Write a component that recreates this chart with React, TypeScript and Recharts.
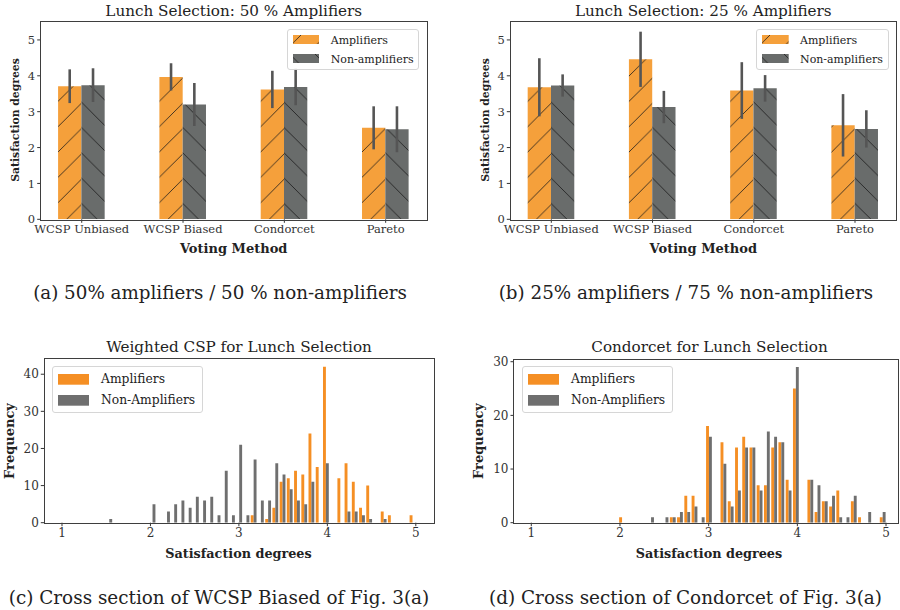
import React from "react";
import { BarChart, Bar, XAxis, YAxis, ErrorBar } from "recharts";

// --- top row: mean satisfaction per voting method ---
const methods = ["WCSP Unbiased", "WCSP Biased", "Condorcet", "Pareto"];
const methodPos = [0, 1, 2, 3];

const amp50 = [3.71, 3.97, 3.62, 2.55];
const amp50Err = [0.47, 0.38, 0.52, 0.6];
const non50 = [3.74, 3.2, 3.69, 2.51];
const non50Err = [0.47, 0.6, 0.51, 0.64];

const amp25 = [3.68, 4.46, 3.59, 2.62];
const amp25Err = [0.81, 0.77, 0.79, 0.87];
const non25 = [3.73, 3.13, 3.65, 2.52];
const non25Err = [0.31, 0.45, 0.37, 0.52];

// --- bottom row: histograms, 49 bins between 1 and 5 ---
const binCenters = [
  1.041, 1.122, 1.204, 1.286, 1.367, 1.449, 1.531, 1.612, 1.694, 1.776,
  1.857, 1.939, 2.02, 2.102, 2.184, 2.265, 2.347, 2.429, 2.51, 2.592,
  2.673, 2.755, 2.837, 2.918, 3.0, 3.082, 3.163, 3.245, 3.327, 3.408,
  3.49, 3.571, 3.653, 3.735, 3.816, 3.898, 3.98, 4.061, 4.143, 4.224,
  4.306, 4.388, 4.469, 4.551, 4.633, 4.714, 4.796, 4.878, 4.959,
];

const wcspAmp = [
  0, 0, 0, 0, 0, 0, 0, 0, 0, 0,
  0, 0, 0, 0, 0, 0, 0, 0, 0, 0,
  0, 0, 0, 0, 0, 0, 2, 0, 1, 4,
  11, 12, 14, 13, 24, 15, 42, 0, 12, 16,
  11, 4, 10, 0, 3, 2, 0, 0, 2,
];
const wcspNon = [
  0, 0, 0, 0, 0, 0, 1, 0, 0, 0,
  0, 0, 5, 0, 3, 5, 6, 4, 7, 6,
  7, 2, 14, 2, 21, 2, 17, 6, 6, 16,
  13, 9, 6, 5, 11, 0, 16, 0, 0, 3,
  3, 2, 1, 0, 1, 0, 0, 0, 0,
];

const condAmp = [
  0, 0, 0, 0, 0, 0, 0, 0, 0, 0,
  0, 0, 1, 0, 0, 0, 0, 0, 0, 1,
  1, 5, 5, 0, 18, 0, 15, 4, 14, 16,
  14, 7, 7, 14, 15, 8, 25, 0, 8, 2,
  4, 3, 6, 0, 4, 1, 0, 0, 1,
];
const condNon = [
  0, 0, 0, 0, 0, 0, 0, 0, 0, 0,
  0, 0, 0, 0, 0, 0, 1, 0, 1, 1,
  2, 2, 3, 1, 16, 0, 11, 3, 6, 14,
  14, 6, 17, 16, 15, 6, 29, 0, 8, 7,
  4, 5, 1, 1, 5, 0, 2, 0, 2,
];

const FONT = '"DejaVu Serif", serif';
const ORANGE = "#f5a03b";
const GREY = "#696c6b";
const H_ORANGE = "#f58f24";
const H_GREY = "#6f6f6f";
const P = 25.33; // hatch period

const mod = (a: number, m: number) => ((a % m) + m) % m;

function Hatch({ id, color, dir, ox }: { id: string; color: string; dir: string; ox: number }) {
  const d =
    dir === "/"
      ? `M0,${P} L${P},0 M-2,2 L2,-2 M${P - 2},${P + 2} L${P + 2},${P - 2}`
      : `M0,0 L${P},${P} M-2,${P - 2} L2,${P + 2} M${P - 2},-2 L${P + 2},2`;
  return (
    <pattern id={id} patternUnits="userSpaceOnUse" width={P} height={P} x={ox} y={0}>
      <rect width={P} height={P} fill={color} />
      <path d={d} stroke="#1a1a1a" strokeWidth={0.8} />
    </pattern>
  );
}

function Txt({ x, y, size, bold, rotate, children }: any) {
  return (
    <div
      style={{
        position: "absolute",
        left: x,
        top: y,
        transform: `translate(-50%, -50%)${rotate ? " rotate(-90deg)" : ""}`,
        fontFamily: FONT,
        fontSize: size,
        fontWeight: bold ? "bold" : "normal",
        color: "#222",
        whiteSpace: "nowrap",
      }}
    >
      {children}
    </div>
  );
}

function Frame({ x, y, w, h }: any) {
  return (
    <div
      style={{
        position: "absolute",
        left: x - 0.6,
        top: y - 0.6,
        width: w,
        height: h,
        border: "1.2px solid #3e3e3e",
        pointerEvents: "none",
      }}
    />
  );
}

function LegendBox({ x, y, w, h, items, sw, sh, sy, tx, size, gap }: any) {
  return (
    <div
      style={{
        position: "absolute",
        left: x,
        top: y,
        width: w,
        height: h,
        border: "1px solid #d6d6d6",
        borderRadius: 3,
        background: "rgba(255,255,255,0.85)",
        boxSizing: "border-box",
      }}
    >
      {items.map((it: any, i: number) => (
        <React.Fragment key={it.label}>
          <svg
            width={sw}
            height={sh}
            style={{ position: "absolute", left: 5, top: sy + i * gap }}
          >
            <rect width={sw} height={sh} fill={it.fill} />
          </svg>
          <div
            style={{
              position: "absolute",
              left: tx,
              top: sy + i * gap + sh / 2,
              transform: "translateY(-50%)",
              fontFamily: FONT,
              fontSize: size,
              color: "#222",
              whiteSpace: "nowrap",
            }}
          >
            {it.label}
          </div>
        </React.Fragment>
      ))}
    </div>
  );
}

const tickStyle = { fontFamily: FONT, fontSize: 11.5, fill: "#333" };

function MethodChart({ left, yAxisW, rightM, amp, ampErr, non, nonErr, pid }: any) {
  const data = methodPos.map((x, i) => ({
    x,
    amp: amp[i],
    ampErr: ampErr[i],
    non: non[i],
    nonErr: nonErr[i],
  }));
  return (
    <div style={{ position: "absolute", left, top: 0 }}>
      <BarChart
        width={450}
        height={260}
        data={data}
        margin={{ top: 22, right: rightM, bottom: 20.7, left: 0 }}
        barGap={0}
      >
        <XAxis
          dataKey="x"
          type="number"
          domain={[-0.405, 3.405]}
          ticks={methodPos}
          interval={0}
          allowDataOverflow
          tickFormatter={(v: number) => methods[v]}
          axisLine={false}
          tickSize={3.5}
          tickLine={{ stroke: "#333" }}
          tick={tickStyle}
          height={20}
        />
        <YAxis
          domain={[0, 5.5]}
          ticks={[0, 1, 2, 3, 4, 5]}
          allowDataOverflow
          axisLine={false}
          tickSize={3.5}
          tickLine={{ stroke: "#333" }}
          tick={tickStyle}
          width={yAxisW}
        />
        <Bar dataKey="amp" fill={`url(#${pid}-o)`} barSize={23.3} isAnimationActive={false}>
          <ErrorBar dataKey="ampErr" width={0} stroke="#555" strokeWidth={2.6} />
        </Bar>
        <Bar dataKey="non" fill={`url(#${pid}-g)`} barSize={23.3} isAnimationActive={false}>
          <ErrorBar dataKey="nonErr" width={0} stroke="#555" strokeWidth={2.6} />
        </Bar>
      </BarChart>
    </div>
  );
}

const histTickStyle = { fontFamily: FONT, fontSize: 12, fill: "#333" };

function HistChart({ left, yAxisW, rightM, top, domainX, maxY, yTicks, amp, non }: any) {
  const data = binCenters.map((c, i) => ({ c, amp: amp[i], non: non[i] }));
  return (
    <div style={{ position: "absolute", left, top: 340 }}>
      <BarChart
        width={450}
        height={210}
        data={data}
        margin={{ top, right: rightM, bottom: 7.3, left: 0 }}
        barGap={0}
      >
        <XAxis
          dataKey="c"
          type="number"
          domain={domainX}
          ticks={[1, 2, 3, 4, 5]}
          interval={0}
          allowDataOverflow
          axisLine={false}
          tickSize={3.5}
          tickLine={{ stroke: "#333" }}
          tick={histTickStyle}
          height={20}
        />
        <YAxis
          domain={[0, maxY]}
          ticks={yTicks}
          allowDataOverflow
          axisLine={false}
          tickSize={3.5}
          tickLine={{ stroke: "#333" }}
          tick={histTickStyle}
          width={yAxisW}
        />
        <Bar dataKey="amp" fill={H_ORANGE} barSize={2.9} isAnimationActive={false} />
        <Bar dataKey="non" fill={H_GREY} barSize={2.9} isAnimationActive={false} />
      </BarChart>
    </div>
  );
}

export default function App() {
  const lineY = 102.7;
  const bA = 82;
  const bB = 101.7;
  return (
    <div
      style={{
        position: "absolute",
        left: 0,
        top: 0,
        width: 900,
        height: 610,
        background: "#fff",
        overflow: "hidden",
      }}
    >
      <svg width={0} height={0} style={{ position: "absolute" }}>
        <defs>
          <Hatch id="pa-o" color={ORANGE} dir="/" ox={mod(bA + lineY, P)} />
          <Hatch id="pa-g" color={GREY} dir="\\" ox={mod(bA - lineY, P)} />
          <Hatch id="pb-o" color={ORANGE} dir="/" ox={mod(bB + lineY, P)} />
          <Hatch id="pb-g" color={GREY} dir="\\" ox={mod(bB - lineY, P)} />
          <Hatch id="lg-o" color={ORANGE} dir="/" ox={8} />
          <Hatch id="lg-g" color={GREY} dir="\\" ox={22} />
        </defs>
      </svg>

      {/* (a) */}
      <MethodChart
        left={0}
        yAxisW={40.7}
        rightM={23.3}
        amp={amp50}
        ampErr={amp50Err}
        non={non50}
        nonErr={non50Err}
        pid="pa"
      />
      <Frame x={40.7} y={22} w={386} h={197.3} />
      <LegendBox
        x={286.7}
        y={28.7}
        w={132.6}
        h={41.6}
        sw={26.7}
        sh={9}
        sy={5.6}
        gap={19}
        tx={43}
        size={11}
        items={[
          { label: "Amplifiers", fill: "url(#lg-o)" },
          { label: "Non-amplifiers", fill: "url(#lg-g)" },
        ]}
      />
      <Txt x={233.7} y={11} size={15.2}>Lunch Selection: 50 % Amplifiers</Txt>
      <Txt x={233.7} y={248} size={13}>
        <b>Voting Method</b>
      </Txt>
      <Txt x={15} y={120} size={10.8} bold rotate>Satisfaction degrees</Txt>
      <Txt x={220} y={292} size={18.3}>(a) 50% amplifiers / 50 % non-amplifiers</Txt>

      {/* (b) */}
      <MethodChart
        left={450}
        yAxisW={60.3}
        rightM={4}
        amp={amp25}
        ampErr={amp25Err}
        non={non25}
        nonErr={non25Err}
        pid="pb"
      />
      <Frame x={510.3} y={22} w={385.7} h={197.3} />
      <LegendBox
        x={756}
        y={28.7}
        w={132.6}
        h={41.6}
        sw={26.7}
        sh={9}
        sy={5.6}
        gap={19}
        tx={43}
        size={11}
        items={[
          { label: "Amplifiers", fill: "url(#lg-o)" },
          { label: "Non-amplifiers", fill: "url(#lg-g)" },
        ]}
      />
      <Txt x={703.3} y={11} size={15.2}>Lunch Selection: 25 % Amplifiers</Txt>
      <Txt x={703.3} y={248} size={13} bold>Voting Method</Txt>
      <Txt x={485} y={120} size={10.8} bold rotate>Satisfaction degrees</Txt>
      <Txt x={686} y={292} size={18.3}>(b) 25% amplifiers / 75 % non-amplifiers</Txt>

      {/* (c) */}
      <HistChart
        left={0}
        yAxisW={44.3}
        rightM={16.5}
        top={19}
        domainX={[0.8, 5.2]}
        maxY={44.1}
        yTicks={[0, 10, 20, 30, 40]}
        amp={wcspAmp}
        non={wcspNon}
      />
      <Frame x={44.3} y={359} w={389.2} h={163.7} />
      <LegendBox
        x={52}
        y={366}
        w={151}
        h={47}
        sw={31.3}
        sh={10.7}
        sy={7}
        gap={21}
        tx={48}
        size={12.3}
        items={[
          { label: "Amplifiers", fill: H_ORANGE },
          { label: "Non-Amplifiers", fill: H_GREY },
        ]}
      />
      <Txt x={239} y={347} size={15.2}>Weighted CSP for Lunch Selection</Txt>
      <Txt x={238.5} y={553} size={12.8} bold>Satisfaction degrees</Txt>
      <Txt x={8.5} y={441} size={13} bold rotate>Frequency</Txt>
      <Txt x={219} y={597} size={18.4}>(c) Cross section of WCSP Biased of Fig. 3(a)</Txt>

      {/* (d) */}
      <HistChart
        left={450}
        yAxisW={64}
        rightM={2}
        top={19.3}
        domainX={[0.805, 5.135]}
        maxY={30.45}
        yTicks={[0, 10, 20, 30]}
        amp={condAmp}
        non={condNon}
      />
      <Frame x={514} y={359.3} w={384} h={163.7} />
      <LegendBox
        x={522}
        y={366}
        w={151}
        h={47}
        sw={31.3}
        sh={10.7}
        sy={7}
        gap={21}
        tx={48}
        size={12.3}
        items={[
          { label: "Amplifiers", fill: H_ORANGE },
          { label: "Non-Amplifiers", fill: H_GREY },
        ]}
      />
      <Txt x={709.5} y={347} size={15.2}>Condorcet for Lunch Selection</Txt>
      <Txt x={709} y={553} size={12.8} bold>Satisfaction degrees</Txt>
      <Txt x={478} y={441} size={13} bold rotate>Frequency</Txt>
      <Txt x={685.5} y={597} size={18.4}>(d) Cross section of Condorcet of Fig. 3(a)</Txt>
    </div>
  );
}
